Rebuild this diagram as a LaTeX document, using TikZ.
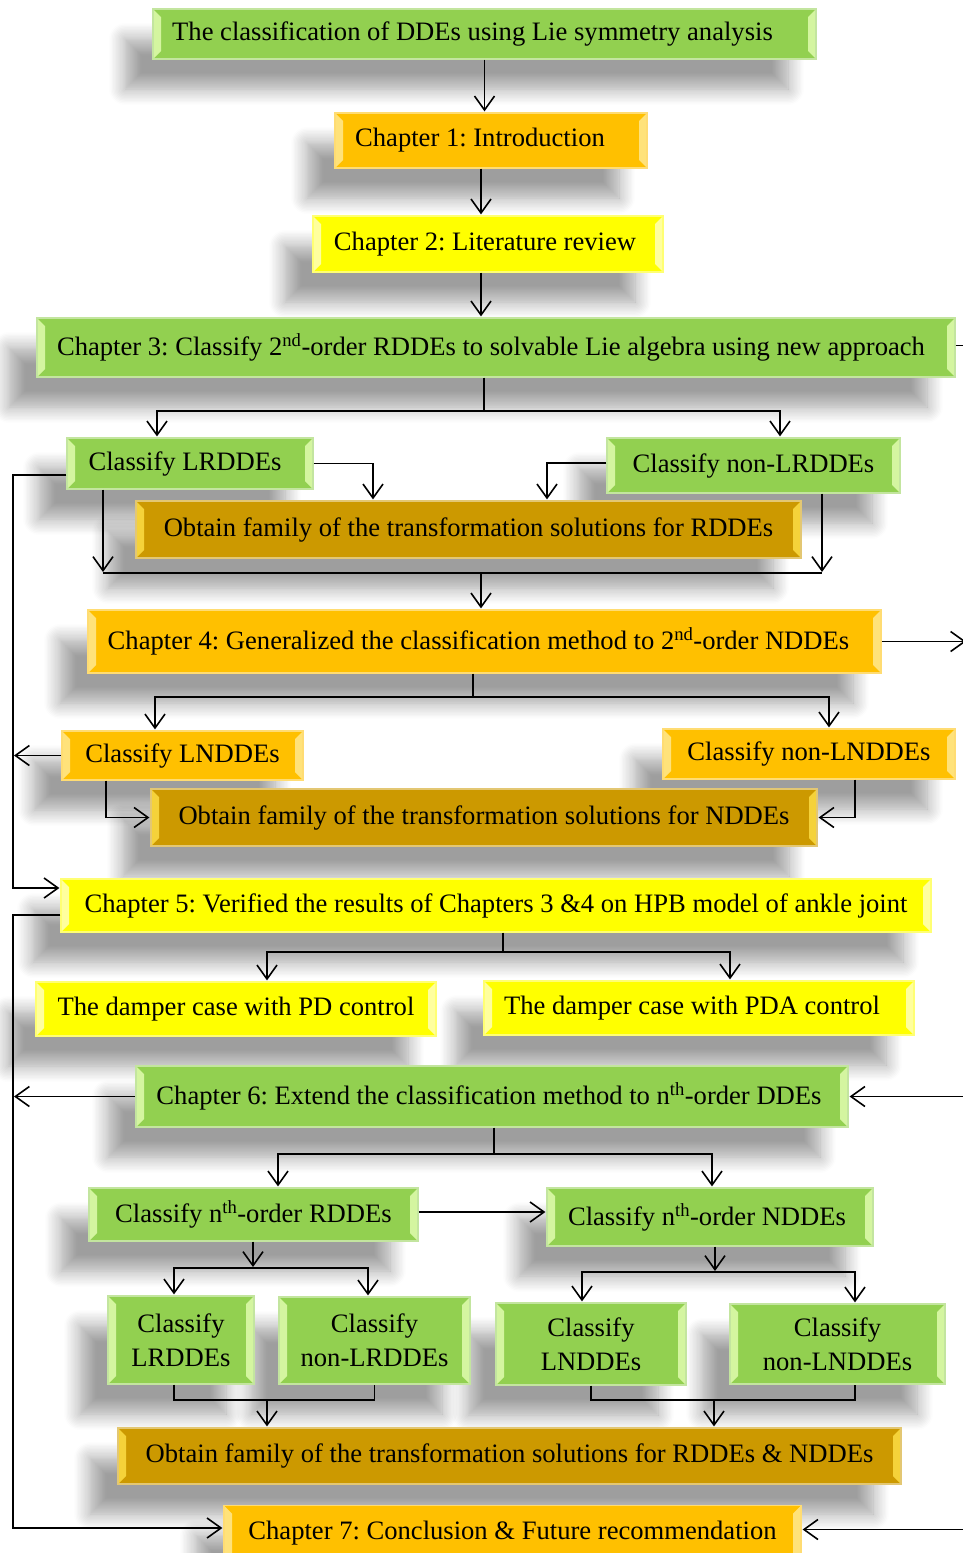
\documentclass[tikz,border=0pt]{standalone}
\usepackage{fontspec}
\setmainfont{Liberation Serif}
\usetikzlibrary{arrows.meta,positioning,shadows.blur}

\newcommand\boxfont{\fontsize{26.6}{34}\selectfont\frenchspacing}

\tikzset{
  box/.style 2 args={draw=#1!55!white,line width=1.2pt,fill=#1,font=\boxfont,align=center,inner sep=0pt,
    blur shadow={shadow xshift=-28pt,shadow yshift=-30pt,shadow blur radius=16pt,shadow blur steps=12,shadow opacity=38},
    path picture={
      \fill[#2] (path picture bounding box.north west) -- ++(8pt,-8pt) -- ([shift={(8pt,8pt)}]path picture bounding box.south west) -- (path picture bounding box.south west) -- cycle;
      \fill[#2] (path picture bounding box.north east) -- ++(-8pt,-8pt) -- ([shift={(-8pt,8pt)}]path picture bounding box.south east) -- (path picture bounding box.south east) -- cycle;
    }},
  sz/.style 2 args={minimum width=#1pt,minimum height=#2pt},
  arr/.style={-{Straight Barb[length=14pt,width=20pt]},line width=1.6pt,shorten >=1pt},
  line/.style={line width=1.6pt}
}

\begin{document}
\begin{tikzpicture}[x=1pt,y=-1pt]

    \definecolor{grn}{HTML}{92D050}
    \definecolor{grnlite}{HTML}{D4F5A0}
    \definecolor{org}{HTML}{FFC000}
    \definecolor{orglite}{HTML}{FFE27A}
    \definecolor{ylw}{HTML}{FFFF00}
    \definecolor{ylwlite}{HTML}{FFFF9E}
    \definecolor{gld}{HTML}{CC9900}
    \definecolor{gldlite}{HTML}{F5D23A}

    \useasboundingbox (0,0) rectangle (963,1553);

    \node (title) [box={grn}{grnlite},sz={663}{50}] at (484.5,34) {The classification of DDEs using Lie symmetry analysis\hspace{24pt}};
    \node (ch1) [box={org}{orglite},sz={312}{55}] at (491,140.5) {Chapter 1: Introduction\hspace{22pt}};
    \node (ch2) [box={ylw}{ylwlite},sz={350}{56}] at (488,244) {Chapter 2: Literature review\hspace{6pt}};
    \node (ch3) [box={grn}{grnlite},sz={918}{59}] at (496,347.5) {Chapter 3: Classify 2\textsuperscript{nd}-order RDDEs to solvable Lie algebra using new approach\hspace{10pt}};

    \node (cnlr) [box={grn}{grnlite},sz={293}{55}] at (753.5,465.5) {Classify non-LRDDEs};
    \node (clr) [box={grn}{grnlite},sz={246}{51}] at (190,463.5) {Classify LRDDEs\hspace{10pt}};
    \node (obr) [box={gld}{gldlite},sz={665}{57}] at (468.5,529.5) {Obtain family of the transformation solutions for RDDEs};

    \node (ch4) [box={org}{orglite},sz={793}{63}] at (484.5,641.5) {Chapter 4: Generalized the classification method to 2\textsuperscript{nd}-order NDDEs\hspace{12pt}};
    \node (cnln) [box={org}{orglite},sz={292}{50}] at (809,754) {Classify non-LNDDEs};
    \node (cln) [box={org}{orglite},sz={241}{49}] at (182.5,755.5) {Classify LNDDEs};
    \node (obn) [box={gld}{gldlite},sz={666}{57}] at (484,817.5) {Obtain family of the transformation solutions for NDDEs};

    \node (ch5) [box={ylw}{ylwlite},sz={870}{53}] at (496,905.5) {Chapter 5: Verified the results of Chapters 3 \&4 on HPB model of ankle joint};
    \node (pda) [box={ylw}{ylwlite},sz={430}{54}] at (699,1008) {The damper case with PDA control\hspace{14pt}};
    \node (pd) [box={ylw}{ylwlite},sz={400}{54}] at (236,1009) {The damper case with PD control};

    \node (ch6) [box={grn}{grnlite},sz={712}{61}] at (492,1096.5) {Chapter 6: Extend the classification method to n\textsuperscript{th}-order DDEs\hspace{6pt}};
    \node (cnn) [box={grn}{grnlite},sz={326}{58}] at (710,1217) {Classify n\textsuperscript{th}-order NDDEs\hspace{6pt}};
    \node (cnr) [box={grn}{grnlite},sz={329}{53}] at (253.5,1214.5) {Classify n\textsuperscript{th}-order RDDEs};
    \node (nln) [box={grn}{grnlite},sz={215}{80}] at (837.5,1344) {Classify\\non-LNDDEs};
    \node (ln) [box={grn}{grnlite},sz={190}{82}] at (591,1344) {Classify\\LNDDEs};
    \node (nlr) [box={grn}{grnlite},sz={191}{87}] at (374.5,1340.5) {Classify\\non-LRDDEs};
    \node (lr) [box={grn}{grnlite},sz={146}{88}] at (181,1340) {Classify\\LRDDEs};
    \node (obrn) [box={gld}{gldlite},sz={783}{56}] at (509.5,1456) {Obtain family of the transformation solutions for RDDEs \& NDDEs};

    \node (ch7) [box={org}{orglite},sz={577}{56}] at (512.5,1533.5) {Chapter 7: Conclusion \& Future recommendation};

    \coordinate (lft) at (13,0);
    \coordinate (rgt) at (967,0);

    \draw[arr] (title.south) -- (title.south |- ch1.north);
    \draw[arr] ([xshift=-10pt]ch1.south) -- ([xshift=-10pt]ch1.south |- ch2.north);
    \draw[arr] ([xshift=-7pt]ch2.south) -- ([xshift=-7pt]ch2.south |- ch3.north);
    \draw[line] ([yshift=2pt]ch3.east) -- ([yshift=2pt]ch3.east -| rgt);

    \coordinate (sp3) at (484,411);
    \draw[line] (ch3.south -| sp3) -- (sp3);
    \draw[arr] (sp3) -| ([xshift=-33pt]clr.north);
    \draw[arr] (sp3) -| ([xshift=26.5pt]cnlr.north);
    \draw[arr] (clr.east) -| ([xshift=-95.5pt]obr.north);
    \draw[arr] ([yshift=2.5pt]cnlr.west) -| ([xshift=78.5pt]obr.north);

    \coordinate (mg3) at (481,573);
    \draw[arr] ([xshift=-87pt]clr.south) -- ([xshift=-87pt]clr.south |- mg3);
    \draw[arr] ([xshift=68.5pt]cnlr.south) -- ([xshift=68.5pt]cnlr.south |- mg3);
    \draw[line] ([xshift=-87pt]clr.south |- mg3) -- ([xshift=68.5pt]cnlr.south |- mg3);
    \draw[arr] (mg3) -- (mg3 |- ch4.north);
    \draw[arr] ([yshift=-11.5pt]clr.west) -- ([yshift=-11.5pt]clr.west -| lft) |- ([yshift=17.5pt]ch5.west);

    \coordinate (sp4) at (473,697);
    \draw[line] (ch4.south -| sp4) -- (sp4);
    \draw[arr] (sp4) -| ([xshift=-27.5pt]cln.north);
    \draw[arr] (sp4) -| ([xshift=20pt]cnln.north);
    \draw[arr] (ch4.east) -- (ch4.east -| rgt);
    \draw[arr] (cln.west) -- (cln.west -| lft);
    \draw[arr] ([xshift=-76.5pt]cln.south) |- (obn.west);
    \draw[arr] ([xshift=46pt]cnln.south) |- (obn.east);

    \coordinate (sp5) at (503,952);
    \draw[line] (ch5.south -| sp5) -- (sp5);
    \draw[arr] (sp5) -| ([xshift=31pt]pd.north);
    \draw[arr] (sp5) -| ([xshift=31pt]pda.north);
    \draw[arr] ([yshift=-9.5pt]ch5.west) -- ([yshift=-9.5pt]ch5.west -| lft) |- ([yshift=5.5pt]ch7.west);

    \draw[arr] (ch6.west) -- (ch6.west -| lft);
    \draw[arr] (ch6.east -| rgt) -- (ch6.east);
    \coordinate (sp6) at (494,1154);
    \draw[line] (ch6.south -| sp6) -- (sp6);
    \draw[arr] (sp6) -| ([xshift=24.5pt]cnr.north);
    \draw[arr] (sp6) -| ([xshift=2pt]cnn.north);
    \draw[arr] ([yshift=2.5pt]cnr.east) -- ([yshift=2.5pt]cnr.east -| cnn.west);

    \coordinate (sp7) at (253,1268);
    \draw[arr] (cnr.south -| sp7) -- (sp7);
    \draw[arr] (sp7) -| ([xshift=-7pt]lr.north);
    \draw[arr] (sp7) -| ([xshift=-6.5pt]nlr.north);
    \coordinate (sp8) at (715,1272);
    \draw[arr] (cnn.south -| sp8) -- (sp8);
    \draw[arr] (sp8) -| ([xshift=-9pt]ln.north);
    \draw[arr] (sp8) -| ([xshift=17.5pt]nln.north);

    \coordinate (mg9) at (267,1400);
    \draw[line] ([xshift=-7pt]lr.south) |- (mg9) -| (nlr.south);
    \draw[arr] (mg9) -- (mg9 |- obrn.north);
    \coordinate (mg10) at (714,1400);
    \draw[line] (ln.south) |- (mg10) -| ([xshift=17.5pt]nln.south);
    \draw[arr] (mg10) -- (mg10 |- obrn.north);
    \draw[arr] ([yshift=4pt]ch7.east -| rgt) -- ([yshift=4pt]ch7.east);

\end{tikzpicture}
\end{document}
